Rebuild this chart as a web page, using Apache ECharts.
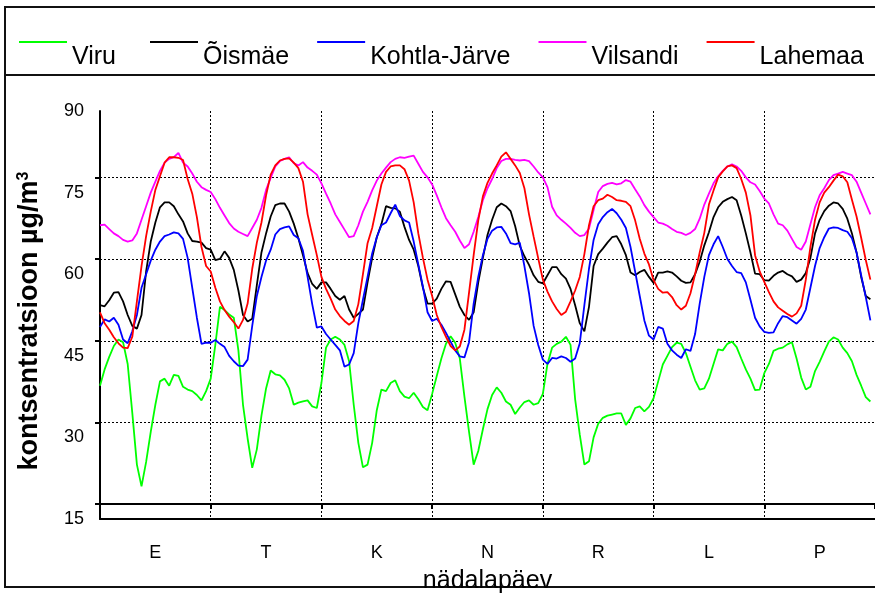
<!DOCTYPE html>
<html>
<head>
<meta charset="utf-8">
<script src="https://cdn.jsdelivr.net/npm/echarts@6/dist/echarts.min.js"></script>
<style>
  html, body { margin: 0; padding: 0; background: #fff; }
  #chart { width: 875px; height: 593px; }
</style>
</head>
<body>
<div id="chart"></div>
<script>
// nädalapäevad (x-telg)
var days = ['E', 'T', 'K', 'N', 'R', 'L', 'P'];

// y-telje sildid ja väikesed kriipsud
var yMin = 15, yMax = 90, yStep = 15;
var yTickMarks = [17.75, 32.75, 47.75, 62.75, 77.75];

// tunniväärtused, 7 päeva x 24 tundi
var viru = [
    39.5, 42.5, 44.8, 46.8, 48, 47.5, 43.5, 34.5, 25, 21, 25.5, 31, 36, 40.3, 40.8, 39.5, 41.5, 41.3, 39.3, 38.8, 38.5, 37.8, 36.8, 38.5,
    40.8, 47, 54, 53.4, 52.6, 52, 46, 36, 29.8, 24.4, 27.8, 34, 39, 42.3, 41.6, 41.4, 40.6, 39, 36, 36.4, 36.6, 36.8, 35.7, 35.4,
    40, 46.5, 48, 48.5, 48, 47, 44, 36, 29, 24.5, 25, 29, 35, 38.8, 38.5, 40, 40.5, 38.5, 37.5, 37.2, 38.2, 37, 35.6, 35,
    38, 41.3, 44.5, 47.2, 48.6, 47.4, 44.5, 37.5, 31, 25, 27.5, 31.5, 35.2, 37.8, 39.2, 38.2, 36.6, 36, 34.3, 35.5, 36.5, 36.8, 36, 36.3,
    38, 43.5, 46.5, 47.2, 47.6, 48.5, 47, 37, 30.5, 25, 25.6, 30, 32.5, 33.6, 34, 34.2, 34.4, 34.4, 32.3, 33.5, 35.4, 35.7, 34.8, 35.6,
    37.2, 40.3, 43.4, 45, 46.6, 47.4, 47.2, 45.5, 43, 40.5, 38.8, 39, 40.8, 43.5, 46.2, 46, 47.2, 47.6, 46.6, 44.5, 42.5, 40.8, 38.7, 38.8,
    41.8, 43.5, 45.9, 46.3, 46.5, 47.1, 47.5, 44.5, 41, 38.8, 39.3, 42.2, 43.9, 45.8, 47.6, 48.4, 48, 46.5, 45.5, 44, 41.5, 39.5, 37.4, 36.6
];
var oismae = [
    54.3, 54.1, 55.2, 56.6, 56.7, 55, 52.5, 50.5, 50, 52.5, 60.5, 66, 69.5, 72.3, 73.2, 73.2, 72.5, 71, 69.7, 67.5, 66.1, 66, 65.8, 64.8,
    64.5, 62.6, 62.8, 64.2, 63, 60.8, 57, 52.5, 51.3, 51.8, 58, 64, 67.5, 70.6, 72.7, 73, 73, 71.5, 69.3, 66.6, 63.5, 60.2, 58.2, 57.3,
    58.5, 58.5, 57.3, 56, 55.3, 56, 53.5, 52, 52.7, 53.5, 58.5, 63, 66.8, 69.2, 72.5, 72.2, 72.1, 71.5, 68.7, 66.3, 64.5, 61.5, 57.5, 54.6,
    54.6, 55.5, 57.3, 58.7, 58.6, 56.3, 54, 52.5, 51.6, 53, 58.5, 63, 67.2, 70, 72.3, 73, 72.5, 71.6, 68.8, 65.2, 63.3, 61.7, 59.8, 58.6,
    58.3, 59.8, 61.3, 61.3, 60, 59.2, 57.3, 54.3, 51, 49.5, 54, 61.5, 63.7, 64.7, 65.8, 66.8, 67, 65.5, 63.5, 60.3, 59.8, 60.4, 60.8, 59.5,
    58.4, 60.3, 60.3, 60.5, 60.3, 59.6, 58.8, 58.4, 58.5, 60, 62.3, 65.3, 67.7, 70.5, 72.3, 73.3, 73.8, 74.2, 73.6, 70.8, 67.5, 64, 60.1, 60,
    58.9, 58.8, 59.7, 60.3, 60.6, 60, 59.6, 58.6, 59, 60.2, 63, 67.5, 70, 71.6, 72.6, 73.2, 73, 72, 70.2, 67.5, 64, 59.5, 56, 55.4
];
var kohtla = [
    50.3, 51.7, 51.3, 52, 50.7, 48, 47.3, 49.5, 52.5, 57.5, 60, 62.5, 64.5, 66, 67, 67.3, 67.7, 67.5, 66.5, 63, 57.5, 52, 47.2, 47.4,
    47.4, 47.9, 47.2, 46.6, 45, 44, 43.2, 43.1, 44.3, 50.5, 56, 59.5, 62.5, 64.5, 67.3, 68.3, 68.6, 68.8, 67.2, 66.6, 64.3, 59.5, 54.5, 50.2,
    50.4, 49, 48, 47, 46, 43, 43.4, 45.5, 51, 55.3, 59.5, 63.8, 66.8, 69, 69.5, 71.2, 72.8, 70.7, 69.9, 69.5, 66, 61.8, 57.7, 53,
    51.4, 51.8, 50.7, 49.2, 47.6, 46, 44.9, 44.7, 47.5, 54.6, 59.5, 63.5, 66.5, 68, 68.6, 68.7, 67.5, 65.7, 65.5, 65.8, 61.5, 56.5, 50.5, 47,
    44.3, 43.5, 44.6, 44.5, 44.9, 44.6, 43.9, 44.5, 47.3, 54.3, 61, 66.3, 69.2, 70.5, 71.4, 72, 71.2, 70, 68.5, 65, 60.5, 56, 51.5, 48.7,
    48, 50.3, 50, 47.2, 46, 45.2, 44.6, 46.2, 45.9, 49, 54.6, 59.5, 63.5, 65.5, 67, 65, 62.8, 61.5, 60.4, 60.2, 58.5, 55.3, 52, 50.4,
    49.4, 49.2, 49.3, 51, 52.3, 52.1, 51.5, 50.9, 51.8, 53.5, 57.5, 61.5, 64.8, 66.8, 68.4, 68.6, 68.5, 68.1, 67.8, 66.6, 64, 59.8, 55.8, 51.5
];
var vilsandi = [
    69, 69.1, 68.3, 67.5, 67, 66.3, 66, 66.2, 67.5, 70, 72.5, 75, 77, 79, 80.5, 81.2, 81.5, 82.3, 80.5, 79.8, 78.5, 77, 76, 75.5,
    75.1, 73.8, 72.2, 70.8, 69.4, 68.4, 67.8, 67.4, 67, 68.5, 70, 72.2, 75.5, 77.7, 79.8, 80.8, 81.2, 81.5, 80.4, 80, 80.6, 79.6, 79, 78.3,
    76.7, 74.8, 73, 71, 69.6, 68.2, 66.8, 67, 69, 71.5, 73.3, 75.4, 77.2, 78.5, 79.6, 80.6, 81.2, 81.5, 81.4, 81.6, 81.8, 80.3, 78.8, 77.8,
    76.5, 74.5, 72.3, 70.3, 69, 67.8, 66.2, 64.8, 65.5, 67.8, 70.5, 73.6, 75.8, 77.5, 79.5, 80.8, 81.2, 81.2, 81, 80.9, 81, 80.8, 79.8, 78.7,
    77.8, 76, 72.4, 70.8, 70, 69.3, 68.5, 67.6, 67, 67.2, 68.4, 71.8, 75.1, 76.2, 76.6, 76.8, 76.5, 76.7, 77.3, 77, 75.6, 74.3, 72.7, 71.5,
    70.5, 69.5, 69.3, 68.9, 68.3, 67.8, 67.6, 67.2, 67.6, 68.3, 70.2, 72.8, 74.8, 76.7, 78, 79, 79.8, 80.2, 79.8, 79, 77.8, 76.9, 76.5, 75.3,
    73.9, 73, 71, 69.3, 69, 68, 66.5, 65, 64.5, 66, 69.2, 72.3, 74.5, 75.8, 77.3, 78.2, 78.5, 78.8, 78.5, 78.2, 77, 75, 73, 71
];
var lahemaa = [
    53, 51, 49.8, 48.4, 47.3, 46.5, 46.4, 48.5, 55, 61.5, 67, 71.5, 75.5, 78, 80.5, 81.5, 81.5, 81.4, 81, 77.5, 74.8, 70.5, 65, 61.5,
    60.5, 57.5, 55, 53.4, 52.2, 51.2, 50, 51.6, 54.6, 61, 65.8, 69.5, 74.5, 78.3, 80, 80.9, 81.2, 81.3, 80.5, 79.5, 77, 71, 67.2, 63.5,
    59.5, 57.3, 55.5, 53.5, 52.3, 51.4, 50.7, 51.4, 54.5, 60, 65.7, 68.5, 72.5, 76.5, 78.8, 79.8, 80, 80, 79.3, 77.2, 73.2, 67.5, 63, 59,
    56, 52.5, 50.3, 48.5, 46.8, 46, 46.7, 49.8, 56.6, 63.5, 69.9, 74.3, 76.8, 78.5, 80, 81.6, 82.4, 81.2, 80, 78.6, 75.8, 71, 66.9, 62.9,
    59, 56.8, 55, 53.6, 52.5, 53.1, 55, 57, 59.5, 63.7, 69, 72.5, 73.6, 73.9, 74.6, 74.2, 73.6, 73.5, 73.3, 72.5, 69.9, 66.5, 63.8, 61.8,
    58.9, 57.3, 56.6, 56.7, 55.8, 54.3, 53.5, 54.2, 56.5, 60, 64, 67.6, 72.8, 75.4, 77.8, 78.9, 79.8, 80, 79.5, 77.5, 75, 70.8, 63.5, 60.5,
    58.6, 56.7, 55, 53.9, 53.3, 52.7, 52.2, 52.8, 54.2, 59, 65, 70, 73.2, 75, 76, 77.2, 78.3, 78, 76.9, 73.7, 70.6, 66.7, 62.6, 59
];

var seriesNames = ['Viru', 'Õismäe', 'Kohtla-Järve', 'Vilsandi', 'Lahemaa'];
var seriesValues = [viru, oismae, kohtla, vilsandi, lahemaa];
var seriesColors = ['#00ff00', '#000000', '#0000ff', '#ff00ff', '#ff0000'];

var font = "'Liberation Sans', Arial, sans-serif";

// tund -> [x, y]
function toPoints(arr) {
    return arr.map(function (v, i) { return [i, v]; });
}

var chart = echarts.init(document.getElementById('chart'), null, { renderer: 'canvas' });

var option = {
    animation: false,
    backgroundColor: '#ffffff',
    textStyle: { fontFamily: font, color: '#000' },
    grid: { left: 100, right: 0, top: 111, bottom: 74, containLabel: false, outerBoundsMode: 'none' },
    legend: {
        left: 19,
        top: 12,
        padding: 0,
        itemGap: 28,
        itemWidth: 48,
        itemHeight: 2,
        icon: 'rect',
        // tekst ikooni all paremal: tühi esimene rida
        formatter: '\n{name}',
        textStyle: { fontSize: 25, lineHeight: 30, color: '#000', fontFamily: font },
        data: seriesNames.map(function (n, i) {
            var item = { name: n };
            if (i === 0) item.textStyle = { padding: [0, 6, 0, 0] };
            return item;
        })
    },
    xAxis: [
        { type: 'value', min: 0, max: 168, show: false },
        {
            type: 'category',
            data: days,
            position: 'bottom',
            boundaryGap: true,
            axisLine: { show: true, lineStyle: { color: '#000', width: 2 } },
            axisTick: { show: false },
            axisLabel: { fontSize: 18, color: '#000', margin: 25, fontFamily: font },
            splitLine: { show: true, interval: 0, lineStyle: { color: '#000', width: 1, type: [2, 2] } },
            name: 'nädalapäev',
            nameLocation: 'middle',
            nameGap: 50,
            nameTextStyle: { fontSize: 25, color: '#000', fontFamily: font }
        },
        {
            type: 'category',
            data: days,
            position: 'bottom',
            offset: -15,
            boundaryGap: true,
            axisLine: { show: true, lineStyle: { color: '#000', width: 2 } },
            axisTick: { show: true, interval: 0, length: 5, lineStyle: { color: '#000', width: 2 } },
            axisLabel: { show: false },
            splitLine: { show: false }
        }
    ],
    yAxis: {
        type: 'value',
        min: yMin,
        max: yMax,
        interval: yStep,
        axisLine: { show: true, lineStyle: { color: '#000', width: 2 } },
        axisTick: { show: true, length: 5, customValues: yTickMarks, lineStyle: { color: '#000', width: 2 } },
        axisLabel: { fontSize: 18, color: '#000', margin: 16, fontFamily: font },
        splitLine: { show: true, lineStyle: { color: '#000', width: 1, type: [2, 2] } },
        name: '{a|kontsentratsioon µg/m}{b|3}',
        nameLocation: 'middle',
        nameRotate: 90,
        nameGap: 57,
        nameTextStyle: {
            padding: [0, 12, 0, 0],
            rich: {
                a: { fontSize: 27, fontWeight: 'bold', color: '#000', fontFamily: font },
                b: { fontSize: 16, fontWeight: 'bold', color: '#000', fontFamily: font, verticalAlign: 'top' }
            }
        }
    },
    graphic: [
        {
            type: 'rect',
            shape: { x: 5, y: 7, width: 900, height: 580 },
            style: { fill: 'none', stroke: '#111', lineWidth: 2 },
            silent: true
        },
        {
            type: 'line',
            shape: { x1: 5, y1: 75, x2: 875, y2: 75 },
            style: { stroke: '#111', lineWidth: 2 },
            silent: true
        }
    ],
    series: seriesNames.map(function (n, i) {
        return {
            name: n,
            type: 'line',
            xAxisIndex: 0,
            data: toPoints(seriesValues[i]),
            symbol: 'none',
            color: seriesColors[i],
            lineStyle: { color: seriesColors[i], width: 1.8 }
        };
    })
};

chart.setOption(option);
</script>
</body>
</html>
